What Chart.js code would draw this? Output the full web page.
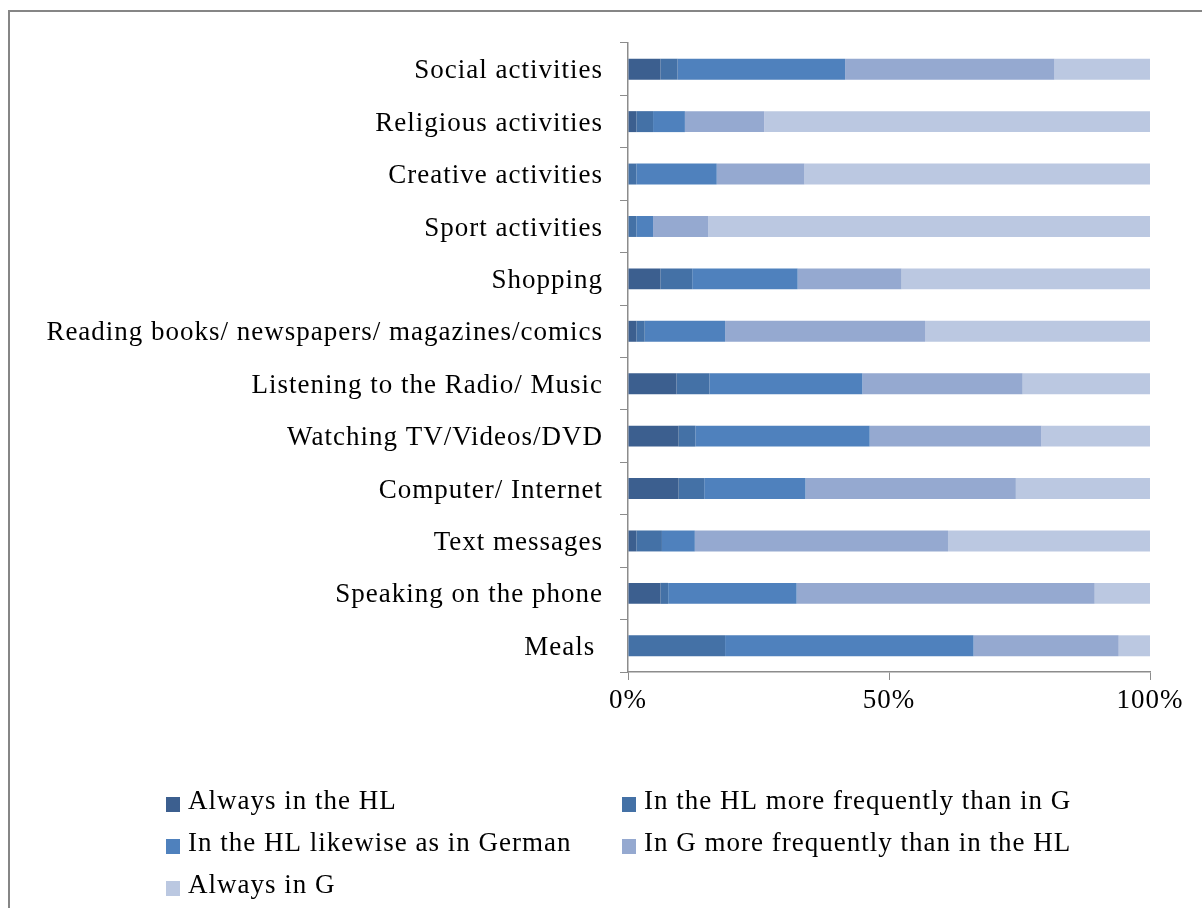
<!DOCTYPE html>
<html>
<head>
<meta charset="utf-8">
<script src="https://cdn.jsdelivr.net/npm/chart.js@4.4.1/dist/chart.umd.min.js"></script>
<style>
  html, body { margin: 0; padding: 0; background: #fff; overflow: hidden; }
  #wrap { position: absolute; left: 0; top: 0; width: 1202px; height: 908px; }
</style>
</head>
<body>
<div id="wrap"><canvas id="usageChart"></canvas></div>
<script>
const activities = [
    'Social activities',
    'Religious activities',
    'Creative activities',
    'Sport activities',
    'Shopping',
    'Reading books/ newspapers/ magazines/comics',
    'Listening to the Radio/ Music',
    'Watching TV/Videos/DVD',
    'Computer/ Internet',
    'Text messages',
    'Speaking on the phone',
    'Meals '
];

// share of answers per activity (%), each row adds up to 100
const alwaysHL   = [6.2, 1.6, 0,    0,    6.2,  1.6,  9.3,  9.7,  9.7,  1.6,  6.2,  0];
const moreHL     = [3.3, 3.2, 1.6,  1.6,  6.1,  1.6,  6.3,  3.2,  4.9,  4.9,  1.5,  18.6];
const likewise   = [32.1, 6.1, 15.4, 3.2, 20.2, 15.4, 29.3, 33.4, 19.4, 6.3,  24.6, 47.6];
const moreG      = [40.1, 15.2, 16.8, 10.6, 19.9, 38.3, 30.7, 32.9, 40.3, 48.5, 57.1, 27.8];
const alwaysG    = [18.3, 73.9, 66.2, 84.6, 47.6, 43.1, 24.4, 20.8, 25.7, 38.7, 10.6, 6.0];

const seriesNames = [
    'Always in the HL',
    'In the HL more frequently than in G',
    'In the HL likewise as in German',
    'In G more frequently than in the HL',
    'Always in G'
];
const seriesColors = ['#3c5f8f', '#4471a6', '#4f81bd', '#95a9d0', '#bbc8e1'];

const serif = '"Liberation Serif", "Times New Roman", serif';
const axisGray = '#8c8c8c';

// outer frame + two-column legend under the plot
const framePlugin = {
    id: 'frameAndLegend',
    beforeDraw(chart) {
        const ctx = chart.ctx;
        ctx.letterSpacing = '1px';
        ctx.save();
        ctx.strokeStyle = '#868686';
        ctx.lineWidth = 2;
        ctx.strokeRect(9, 11, 1300, 1000);
        ctx.restore();
    },
    afterDraw(chart) {
        const ctx = chart.ctx;
        const cols = [{ box: 166, text: 188 }, { box: 622, text: 644 }];
        const rows = [809, 851, 893];
        ctx.save();
        ctx.font = '27px ' + serif;
        ctx.fillStyle = '#000';
        ctx.textBaseline = 'alphabetic';
        ctx.textAlign = 'left';
        chart.data.datasets.forEach((ds, i) => {
            const c = cols[i % 2];
            const y = rows[Math.floor(i / 2)];
            ctx.fillStyle = ds.backgroundColor;
            ctx.fillRect(c.box, y - 12, 14, 15);
            ctx.fillStyle = '#000';
            ctx.fillText(ds.label, c.text, y);
        });
        ctx.restore();
    }
};

const sets = [alwaysHL, moreHL, likewise, moreG, alwaysG];

new Chart(document.getElementById('usageChart'), {
    type: 'bar',
    data: {
        labels: activities,
        datasets: sets.map((vals, i) => ({
            label: seriesNames[i],
            data: vals,
            backgroundColor: seriesColors[i],
            borderWidth: 0,
            barPercentage: 0.4,
            categoryPercentage: 1.0
        }))
    },
    options: {
        indexAxis: 'y',
        responsive: true,
        maintainAspectRatio: false,
        animation: false,
        layout: { padding: { top: 43, right: 52, bottom: 186, left: 0 } },
        plugins: {
            legend: { display: false },
            tooltip: { enabled: false }
        },
        scales: {
            x: {
                stacked: true,
                min: 0,
                max: 100,
                ticks: {
                    stepSize: 50,
                    padding: 5,
                    color: '#000',
                    font: { family: serif, size: 27 },
                    callback: v => v + '%'
                },
                grid: {
                    drawOnChartArea: false,
                    tickLength: 8,
                    color: axisGray
                },
                border: { color: axisGray, width: 1.5 },
                afterFit: scale => { scale.height = 50; }
            },
            y: {
                stacked: true,
                ticks: {
                    padding: 17,
                    labelOffset: 2,
                    color: '#000',
                    font: { family: serif, size: 27 },
                    autoSkip: false
                },
                grid: {
                    drawOnChartArea: false,
                    tickLength: 8,
                    color: axisGray,
                    offset: true
                },
                border: { color: axisGray, width: 1.5 },
                afterFit: scale => { scale.width = 628; }
            }
        }
    },
    plugins: [framePlugin]
});
</script>
</body>
</html>
